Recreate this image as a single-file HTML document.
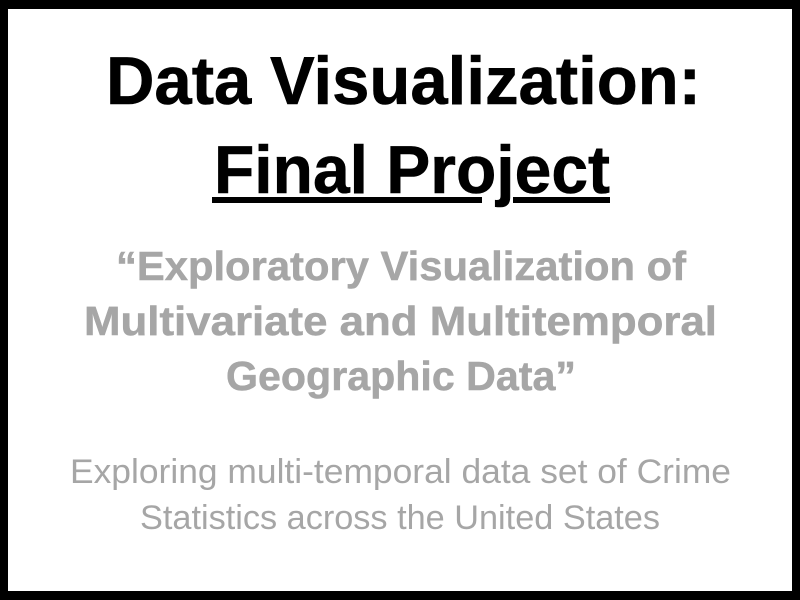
<!DOCTYPE html>
<html lang="en">
<head>
<meta charset="utf-8">
<title>Data Visualization: Final Project</title>
<style>
  html, body { margin: 0; padding: 0; width: 800px; height: 600px; background: #fff; overflow: hidden; }
  svg { display: block; }
  text { font-family: "Liberation Sans", sans-serif; }
  .title { font-size: 68px; font-weight: 700; fill: #000; stroke: #000; stroke-width: 0.6px; }
  .subtitle { font-size: 41px; font-weight: 700; fill: #a6a6a6; stroke: #a6a6a6; stroke-width: 0.5px; }
  .body { font-size: 34px; fill: #a6a6a6; }
</style>
</head>
<body>
<svg width="800" height="600" viewBox="0 0 800 600">
  <rect x="0" y="0" width="800" height="600" fill="#000"/>
  <rect x="8" y="9" width="784" height="582" fill="#fff"/>

  <text class="title" x="106" y="104" textLength="595" lengthAdjust="spacingAndGlyphs">Data Visualization:</text>
  <text class="title" x="214" y="193" textLength="396" lengthAdjust="spacingAndGlyphs">Final Project</text>
  <rect x="212" y="197" width="270" height="6" fill="#000"/>
  <rect x="513" y="197" width="97" height="6" fill="#000"/>

  <text class="subtitle" x="116" y="280" textLength="570" lengthAdjust="spacingAndGlyphs">“Exploratory Visualization of</text>
  <text class="subtitle" x="84" y="335" textLength="633" lengthAdjust="spacingAndGlyphs">Multivariate and Multitemporal</text>
  <text class="subtitle" x="226" y="390" textLength="350" lengthAdjust="spacingAndGlyphs">Geographic Data”</text>

  <text class="body" x="70" y="483" textLength="661" lengthAdjust="spacingAndGlyphs">Exploring multi-temporal data set of Crime</text>
  <text class="body" x="140" y="529" textLength="520" lengthAdjust="spacingAndGlyphs">Statistics across the United States</text>
</svg>
</body>
</html>
